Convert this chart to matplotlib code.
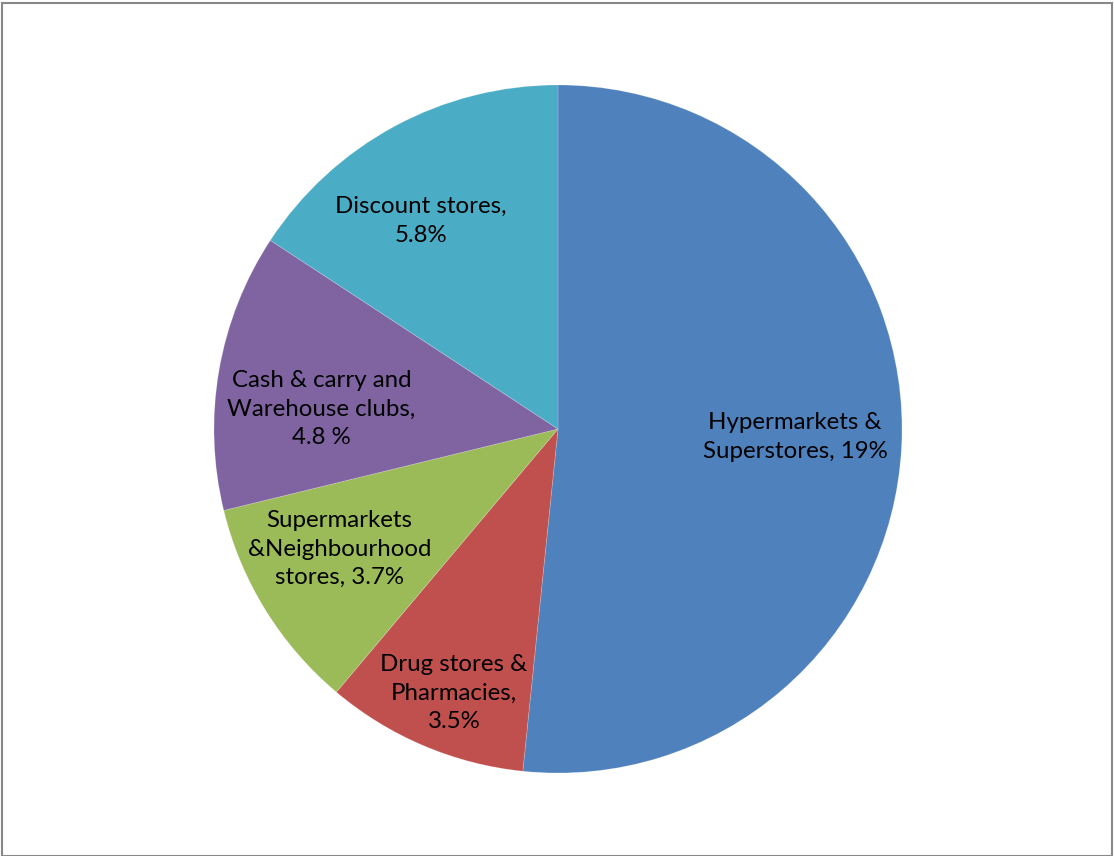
"""Pie chart of retail format shares."""
import numpy as np
import matplotlib.pyplot as plt
from matplotlib.patches import Rectangle

plt.rcParams["font.family"] = ["Lato", "DejaVu Sans"]

# slice data, in drawing order (clockwise from 12 o'clock)
formats = [
    "Hypermarkets &\nSuperstores, 19%",
    "Drug stores &\nPharmacies,\n3.5%",
    "Supermarkets\n&Neighbourhood\nstores, 3.7%",
    "Cash & carry and\nWarehouse clubs,\n4.8 %",
    "Discount stores,\n5.8%",
]
shares = [19, 3.5, 3.7, 4.8, 5.8]
colors = ["#4F81BD", "#C0504D", "#9BBB59", "#8064A2", "#4BACC6"]
# how far out each label sits, as a fraction of the radius
label_dist = [0.69, 0.825, 0.725, 0.69, 0.725]
label_shift = [1, 1.5, -3, 5, 5]  # small angular nudge in degrees

W, H = 1114, 856
fig = plt.figure(figsize=(W / 100, H / 100), dpi=100)
ax = fig.add_axes([0, 0, 1, 1])

cx, cy, r = 558, H - 429, 344
wedges, _ = ax.pie(
    shares,
    colors=colors,
    startangle=90,
    counterclock=False,
    center=(cx, cy),
    radius=r,
    wedgeprops=dict(edgecolor=(1, 1, 1, 0.2), linewidth=0.6),
    frame=True,
)
ax.set_xlim(0, W)
ax.set_ylim(0, H)
ax.set_aspect("equal")
ax.axis("off")

for w, text, d, s in zip(wedges, formats, label_dist, label_shift):
    mid = np.deg2rad((w.theta1 + w.theta2) / 2 + s)
    ax.text(cx + d * r * np.cos(mid), cy + d * r * np.sin(mid), text,
            ha="center", va="center", fontsize=17.3, linespacing=1.45,
            color="black")

# outer chart border
fig.patches.append(Rectangle((2 / W, 0.5 / H), (W - 4) / W, (H - 3) / H,
                             transform=fig.transFigure, fill=False,
                             edgecolor="#888888", linewidth=1.5))

fig.savefig("out.png", dpi=100)
